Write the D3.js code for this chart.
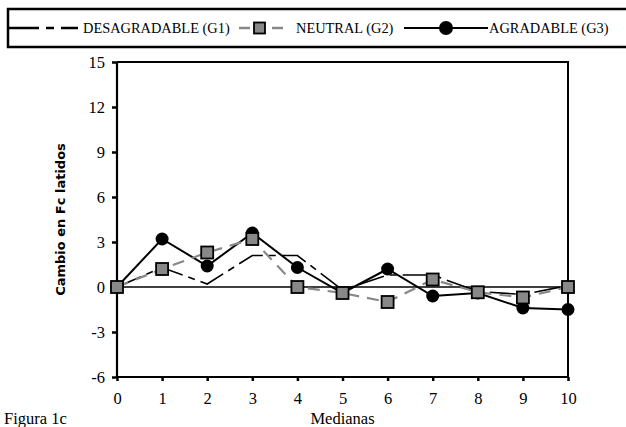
<!DOCTYPE html>
<html>
<head>
<meta charset="utf-8">
<script src="https://cdn.jsdelivr.net/npm/d3@7"></script>
<style>
  body { margin: 0; background: #fff; }
  svg { display: block; font-family: "Liberation Serif", "Times New Roman", serif; }
</style>
</head>
<body>
<svg id="chart" width="626" height="427"></svg>
<script>
// medianas 0..10
const medianas = [0, 1, 2, 3, 4, 5, 6, 7, 8, 9, 10]
const yTicks = [-6, -3, 0, 3, 6, 9, 12, 15]

const desagradable = [0, 1.3, 0.2, 2.1, 2.1, -0.2, 0.8, 0.8, -0.3, -0.5, 0.1]
const neutral = [0, 1.2, 2.3, 3.2, 0, -0.4, -1.0, 0.5, -0.35, -0.7, 0]
const agradable = [0, 3.2, 1.4, 3.6, 1.3, -0.4, 1.2, -0.6, -0.4, -1.4, -1.5]

const legendLabels = ['DESAGRADABLE (G1)', 'NEUTRAL (G2)', 'AGRADABLE (G3)']

const margin = { top: 62, right: 58, bottom: 50, left: 117 }
const width = 626
const height = 427

const svg = d3.select('#chart')

const x = d3.scaleLinear().domain([0, 10]).range([margin.left, width - margin.right])
const y = d3.scaleLinear().domain([-6, 15]).range([height - margin.bottom, margin.top])

// legend box (runs past the right edge)
const legend = svg.append('g')
legend.append('rect')
  .attr('x', 8).attr('y', 9).attr('width', 640).attr('height', 38)
  .attr('fill', 'none').attr('stroke', '#000').attr('stroke-width', 2.5)

const ly = 28
legend.append('line')
  .attr('x1', 9).attr('x2', 78).attr('y1', ly).attr('y2', ly)
  .attr('stroke', '#000').attr('stroke-width', 2.5).attr('stroke-dasharray', '30 7 8 7')
legend.append('text').attr('x', 83).attr('y', ly + 5).attr('font-size', 14.4).text(legendLabels[0])

legend.append('line')
  .attr('x1', 239).attr('x2', 283).attr('y1', ly).attr('y2', ly)
  .attr('stroke', '#888').attr('stroke-width', 2.5).attr('stroke-dasharray', '11 22 11')
legend.append('rect')
  .attr('x', 254).attr('y', ly - 5.5).attr('width', 11).attr('height', 11)
  .attr('fill', '#888').attr('stroke', '#000').attr('stroke-width', 1.8)
legend.append('text').attr('x', 296).attr('y', ly + 5).attr('font-size', 14.4).text(legendLabels[1])

legend.append('line')
  .attr('x1', 404).attr('x2', 488).attr('y1', ly).attr('y2', ly)
  .attr('stroke', '#000').attr('stroke-width', 2)
legend.append('circle').attr('cx', 446).attr('cy', ly).attr('r', 7).attr('fill', '#000')
legend.append('text').attr('x', 489).attr('y', ly + 5).attr('font-size', 14.4).text(legendLabels[2])

// frame: top and right
svg.append('path')
  .attr('d', `M${x(0)},${y(15)}H${x(10)}V${y(-6)}`)
  .attr('fill', 'none').attr('stroke', '#000').attr('stroke-width', 2)

// axes (plain hyphen for negatives, as in the original)
const fmt = d => String(d)
const yAxis = svg.append('g')
  .attr('transform', `translate(${x(0)},0)`)
  .call(d3.axisLeft(y).tickValues(yTicks).tickSize(5).tickPadding(7).tickFormat(fmt))
const xAxis = svg.append('g')
  .attr('transform', `translate(0,${y(-6)})`)
  .call(d3.axisBottom(x).tickValues(medianas).tickSize(4).tickPadding(11).tickFormat(fmt))

for (const ax of [xAxis, yAxis]) {
  ax.select('.domain').attr('stroke-width', 2.2)
  ax.selectAll('.tick line').attr('stroke-width', 2.5)
  ax.selectAll('.tick text').attr('font-size', 16.5).attr('font-family', '"Liberation Serif", serif').attr('fill', '#000')
}
xAxis.select('.domain').attr('d', `M${x(0)},0H${x(10)}`)
yAxis.select('.domain').attr('d', `M0,${y(-6)}V${y(15)}`)

// zero line
svg.append('line')
  .attr('x1', x(0)).attr('x2', x(10)).attr('y1', y(0)).attr('y2', y(0))
  .attr('stroke', '#000').attr('stroke-width', 1.5)

const line = d3.line().x((d, i) => x(medianas[i])).y(d => y(d))

// G3 agradable
svg.append('path').datum(agradable)
  .attr('d', line).attr('fill', 'none').attr('stroke', '#000').attr('stroke-width', 2)
svg.append('g').selectAll('circle').data(agradable).enter().append('circle')
  .attr('cx', (d, i) => x(medianas[i])).attr('cy', d => y(d)).attr('r', 6.5).attr('fill', '#000')

// G1 desagradable
svg.append('path').datum(desagradable)
  .attr('d', line).attr('fill', 'none').attr('stroke', '#000').attr('stroke-width', 1.6)
  .attr('stroke-dasharray', '26 6 7 6')

// G2 neutral
svg.append('path').datum(neutral)
  .attr('d', line).attr('fill', 'none').attr('stroke', '#888').attr('stroke-width', 2.2)
  .attr('stroke-dasharray', '12 8')
svg.append('g').selectAll('rect').data(neutral).enter().append('rect')
  .attr('x', (d, i) => x(medianas[i]) - 6).attr('y', d => y(d) - 6)
  .attr('width', 12).attr('height', 12)
  .attr('fill', '#888').attr('stroke', '#000').attr('stroke-width', 1.8)

// labels
svg.append('text').attr('x', x(5)).attr('y', 424).attr('text-anchor', 'middle')
  .attr('font-size', 16.5).text('Medianas')
svg.append('text').attr('x', 4).attr('y', 424).attr('font-size', 16.5).text('Figura 1c')
svg.append('text')
  .attr('transform', `translate(65,${y(4.5)}) rotate(-90)`)
  .attr('text-anchor', 'middle')
  .attr('font-family', '"DejaVu Sans", sans-serif').attr('font-weight', 'bold').attr('font-size', 13)
  .attr('fill', '#000')
  .text('Cambio en Fc latidos')
</script>
</body>
</html>
